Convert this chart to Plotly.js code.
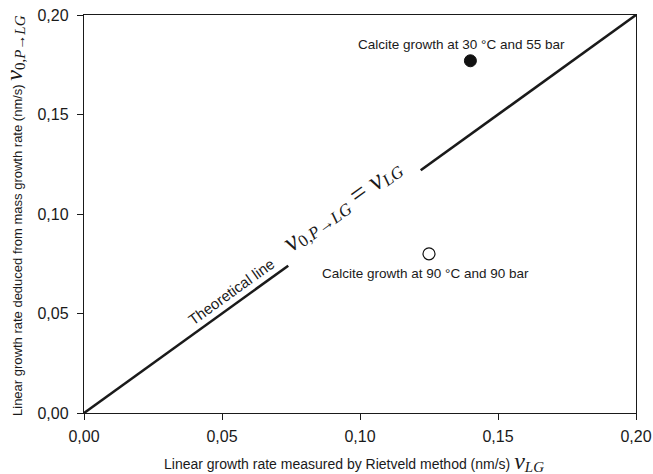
<!DOCTYPE html>
<html>
<head>
<meta charset="utf-8">
<script src="https://cdn.plot.ly/plotly-3.0.1.min.js"></script>
<style>html,body{margin:0;padding:0;background:#fff;}#chart{width:653px;height:474px;}</style>
</head>
<body>
<div id="chart"></div>
<script>
// Theoretical line segments (x = y)
const lineLowX = [0.0, 0.074];
const lineLowY = [0.0, 0.074];
const lineHighX = [0.122, 0.20];
const lineHighY = [0.122, 0.20];
// Measured points
const pt30X = [0.14];
const pt30Y = [0.177];
const pt90X = [0.125];
const pt90Y = [0.080];
const tickVals = [0, 0.05, 0.10, 0.15, 0.20];
const tickText = ["0,00", "0,05", "0,10", "0,15", "0,20"];

const lineStyle = {color: '#1a1a1a', width: 2.6};
const traces = [
  {x: lineLowX, y: lineLowY, mode: 'lines', line: lineStyle, hoverinfo: 'skip'},
  {x: lineHighX, y: lineHighY, mode: 'lines', line: lineStyle, hoverinfo: 'skip'},
  {x: pt30X, y: pt30Y, mode: 'markers', marker: {size: 12, color: '#111', line: {color: '#111', width: 1}}},
  {x: pt90X, y: pt90Y, mode: 'markers', marker: {size: 12, color: '#fff', line: {color: '#111', width: 1.2}}}
];

function sp(txt, size, italic) {
  return '<span style="font-family:Liberation Serif;font-size:' + size + 'px;' +
    (italic ? 'font-style:italic;' : 'font-style:normal;') + '">' + txt + '</span>';
}
function mathV0(big, small) {
  return sp('v', big, true) + '<sub>' + sp('0,', small, false) + sp('P', small, true) +
    sp('→', small, false) + sp('LG', small, true) + '</sub>';
}
function mathVLG(big, small) {
  return sp('v', big, true) + '<sub>' + sp('LG', small, true) + '</sub>';
}

const angle = -35.8;
const layout = {
  width: 653, height: 474,
  margin: {l: 84, r: 17, t: 15, b: 61},
  paper_bgcolor: '#fff', plot_bgcolor: '#fff',
  showlegend: false,
  font: {family: "'Liberation Sans', Arial, sans-serif", color: '#1a1a1a', size: 13},
  xaxis: {
    range: [0, 0.20], tickvals: tickVals, ticktext: tickText,
    showgrid: false, zeroline: false, showline: true, mirror: true,
    linecolor: '#1a1a1a', linewidth: 1.2, ticks: 'outside', ticklen: 6, tickcolor: '#1a1a1a',
    tickfont: {size: 16}, ticklabelstandoff: 3
  },
  yaxis: {
    range: [0, 0.20], tickvals: tickVals, ticktext: tickText,
    showgrid: false, zeroline: false, showline: true, mirror: true,
    linecolor: '#1a1a1a', linewidth: 1.2, ticks: 'outside', ticklen: 6, tickcolor: '#1a1a1a',
    tickfont: {size: 16}, ticklabelstandoff: 5
  },
  annotations: [
    {x: 0.489, y: -0.123, xref: 'paper', yref: 'paper', xanchor: 'center', yanchor: 'middle',
     text: 'Linear growth rate measured by Rietveld method (nm/s) ' + mathVLG(24, 15), showarrow: false, font: {size: 14}},
    {x: -0.125, y: 0.495, xref: 'paper', yref: 'paper', xanchor: 'center', yanchor: 'middle', textangle: -90,
     text: 'Linear growth rate deduced from mass growth rate (nm/s) ' + mathV0(24, 15), showarrow: false, font: {size: 13}},
    {x: 0.1366, y: 0.185, xref: 'x', yref: 'y', text: 'Calcite growth at 30 °C and 55 bar', showarrow: false, font: {size: 13.5}},
    {x: 0.1239, y: 0.0703, xref: 'x', yref: 'y', text: 'Calcite growth at 90 °C and 90 bar', showarrow: false, font: {size: 13.5}},
    {x: 0.0533, y: 0.0613, xref: 'x', yref: 'y', text: 'Theoretical line', showarrow: false, textangle: angle, font: {size: 15}},
    {x: 0.0935, y: 0.1045, xref: 'x', yref: 'y', text: mathV0(28, 17) + sp(' = ', 28, false) + mathVLG(28, 17),
     showarrow: false, textangle: angle}
  ]
};

Plotly.newPlot('chart', traces, layout, {displayModeBar: false, staticPlot: true});
</script>
</body>
</html>
